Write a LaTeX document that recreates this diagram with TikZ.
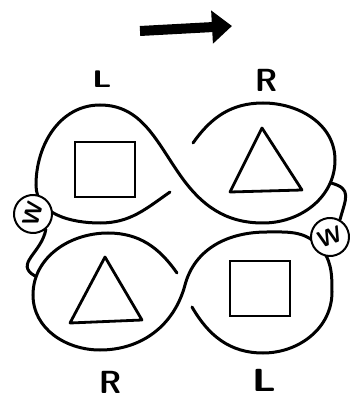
\documentclass[tikz,border=0pt]{standalone}
\usepackage{tikz}
\usetikzlibrary{arrows.meta,positioning}

\begin{document}
\begin{tikzpicture}[x=1pt, y=1pt,
        strand/.style={line width=3pt, line cap=round},
        tri/.style={line width=2.8pt, line join=round},
        sq/.style={draw, line width=2.8pt, minimum width=60pt, minimum height=55pt, inner sep=0pt},
        wcirc/.style={draw, circle, fill=white, line width=2pt, minimum size=38pt, inner sep=0pt, font=\sffamily\bfseries\fontsize{23}{23}\selectfont},
        lbl/.style={font=\sffamily\bfseries\fontsize{32}{32}\selectfont},
        heavy/.style={line width=10pt, -{Triangle[length=20pt,width=32pt]}}]
        \useasboundingbox (0,0) rectangle (354,400);

        \coordinate (arrS) at (140,369);
        \coordinate (arrE) at (232,374);
        \draw[heavy] (arrS) -- (arrE);

        \node (Ltop) [lbl, font=\sffamily\bfseries\fontsize{24}{24}\selectfont, xscale=1.4] at (102,321) {L};
        \node (Rtop) [lbl] at (266,320) {R};
        \node (Rbot) [lbl] at (110,18) {R};
        \node (Lbot) [lbl, xscale=1.3] at (264,20) {L};

        % top pair
        \draw[strand] (170,208) to[out=215,in=0] (100,177) to[out=180,in=-90] (36,215)
            to[out=90,in=180] (100,295) to[out=0,in=125] (180,225) to[out=-55,in=180] (263,177)
            to[out=0,in=-90] (335,240) to[out=90,in=0] (263,297) to[out=180,in=55] (193,257);

        % bottom pair
        \draw[strand] (177,127) to[out=125,in=0] (108,167) to[out=180,in=90] (33,105)
            to[out=-90,in=180] (100,50) to[out=0,in=-105] (185,115) to[out=75,in=180] (267,168)
            to[out=0,in=135] (318,155) to[out=-45,in=90] (332,108) to[out=-90,in=0] (263,47)
            to[out=180,in=-60] (192,93);

        \node (sqTL) [sq] at (105,230.5) {};
        \node (sqBR) [sq] at (260,111.5) {};
        \draw[tri] (262,272) -- (230,208) -- (302,210) -- cycle;
        \draw[tri] (105,143) -- (70,77) -- (142,80) -- cycle;

        \node (wl) [wcirc, rotate=75] at (33,186) {W};
        \node (wr) [wcirc, rotate=20] at (330,163) {W};

        \coordinate (blw) at (35,124);
        \coordinate (trw) at (331,217);
        \draw[strand] (wl.235) to[out=-100,in=150,looseness=1.3] (blw);
        \draw[strand] (trw) to[out=-15,in=75,looseness=1.5] (wr.40);
    \end{tikzpicture}
\end{document}
